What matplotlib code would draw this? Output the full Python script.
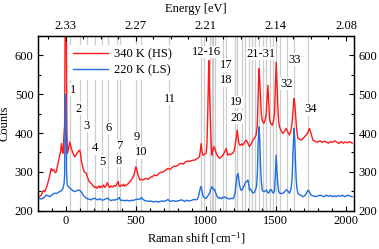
import numpy as np
import matplotlib
matplotlib.use('Agg')
import matplotlib.pyplot as plt
from matplotlib.ticker import MultipleLocator

plt.rcParams['font.family'] = 'Liberation Serif'
plt.rcParams['mathtext.fontset'] = 'stix'
plt.rcParams['font.size'] = 9

# 340 K (HS) spectrum
hs_x = [-190, -175, -160, -150, -135, -120, -112, -103, -95, -85, -75, -67, -58, -50, -43, -36, -31, -25,
        -19, -12, -8, -4, 4, 8, 12, 20, 29, 35, 40, 48, 56, 64, 72, 80, 88, 95, 100, 106, 111, 118, 124,
        132, 140, 147, 153, 159, 166, 175, 183, 192, 200, 207, 215, 223, 231, 238, 246, 254, 262, 270,
        279, 288, 297, 305, 314, 322, 330, 338, 346, 354, 361, 367, 374, 380, 386, 395, 405, 413, 421,
        430, 440, 448, 457, 465, 473, 481, 490, 496, 500, 505, 511, 518, 529, 540, 552, 564, 576, 590,
        605, 620, 633, 650, 665, 680, 695, 712, 729, 745, 760, 775, 790, 808, 824, 840, 855, 870, 887,
        903, 919, 930, 942, 954, 960, 966, 972, 979, 990, 1002, 1008, 1014, 1018, 1021, 1025, 1031,
        1037, 1043, 1050, 1057, 1065, 1074, 1085, 1097, 1110, 1121, 1133, 1145, 1151, 1157, 1165, 1175,
        1185, 1193, 1203, 1211, 1218, 1224, 1230, 1236, 1245, 1255, 1264, 1276, 1288, 1300, 1311, 1323,
        1336, 1348, 1359, 1367, 1373, 1379, 1384, 1390, 1396, 1402, 1408, 1414, 1422, 1431, 1437, 1443,
        1449, 1455, 1464, 1474, 1482, 1490, 1496, 1502, 1508, 1514, 1520, 1526, 1538, 1550, 1562, 1574,
        1586, 1597, 1607, 1616, 1623, 1629, 1635, 1640, 1648, 1657, 1669, 1681, 1698, 1716, 1728, 1740,
        1752, 1764, 1782, 1800, 1815, 1830, 1845, 1859, 1875, 1890, 1905, 1920, 1935, 1950, 1965, 1980,
        1995, 2010, 2025, 2045]
hs_y = [236, 240, 252, 249, 262, 282, 295, 309, 303, 306, 298, 300, 318, 330, 343, 352, 373, 355,
        348, 400, 420, 700, 700, 420, 348, 360, 377, 368, 360, 352, 345, 339, 342, 348, 352, 355, 356,
        345, 330, 318, 309, 300, 298, 296, 288, 283, 276, 272, 270, 266, 262, 260, 262, 258, 260, 264,
        259, 263, 261, 266, 260, 265, 272, 264, 260, 264, 261, 262, 265, 263, 266, 270, 275, 266, 262,
        266, 264, 268, 263, 266, 268, 270, 275, 278, 282, 287, 296, 306, 313, 308, 300, 290, 279, 281,
        279, 282, 283, 281, 286, 288, 292, 290, 296, 299, 300, 304, 309, 306, 312, 315, 314, 320, 322,
        320, 326, 328, 327, 330, 330, 333, 335, 339, 352, 373, 355, 343, 345, 348, 370, 459, 540, 587,
        520, 450, 380, 343, 355, 365, 360, 348, 340, 335, 338, 343, 350, 360, 352, 343, 346, 344, 347,
        348, 355, 373, 390, 407, 390, 373, 368, 372, 369, 376, 382, 374, 365, 372, 382, 388, 395, 420,
        490, 566, 540, 493, 450, 433, 428, 425, 432, 450, 490, 523, 480, 433, 425, 420, 430, 450, 520,
        583, 530, 467, 430, 416, 405, 399, 405, 412, 402, 395, 405, 429, 460, 489, 475, 450, 410, 386,
        384, 382, 388, 395, 402, 412, 398, 382, 378, 377, 380, 376, 379, 377, 374, 378, 376, 380, 377,
        373, 378, 374, 377, 375, 378, 374]

# 220 K (LS) spectrum
ls_x = [-190, -175, -162, -150, -139, -125, -114, -100, -90, -79, -65, -55, -43, -30, -19, -12, -8, -3,
        2, 6, 11, 20, 29, 40, 52, 64, 76, 88, 100, 112, 124, 135, 147, 160, 172, 183, 195, 207, 220,
        231, 243, 254, 266, 278, 290, 300, 312, 326, 338, 350, 362, 372, 381, 390, 398, 410, 422, 433,
        445, 458, 470, 482, 493, 505, 517, 528, 540, 552, 564, 576, 590, 605, 620, 633, 648, 662, 676,
        690, 705, 718, 729, 740, 755, 770, 785, 800, 812, 824, 838, 852, 866, 880, 895, 908, 919, 930,
        940, 947, 954, 960, 966, 972, 978, 983, 992, 1002, 1010, 1018, 1026, 1035, 1043, 1050, 1056,
        1062, 1070, 1081, 1092, 1100, 1110, 1120, 1127, 1133, 1140, 1148, 1157, 1170, 1183, 1193, 1200,
        1208, 1216, 1222, 1229, 1234, 1240, 1248, 1256, 1264, 1270, 1276, 1282, 1288, 1294, 1300, 1306,
        1311, 1319, 1327, 1336, 1348, 1355, 1362, 1368, 1373, 1379, 1384, 1390, 1396, 1402, 1408, 1414,
        1419, 1425, 1431, 1440, 1448, 1455, 1461, 1467, 1475, 1483, 1490, 1496, 1502, 1508, 1514, 1520,
        1526, 1538, 1550, 1560, 1570, 1578, 1587, 1597, 1605, 1611, 1616, 1622, 1629, 1635, 1640, 1645,
        1650, 1657, 1665, 1675, 1685, 1693, 1705, 1715, 1722, 1729, 1737, 1745, 1752, 1765, 1777, 1788,
        1800, 1815, 1830, 1845, 1859, 1875, 1890, 1905, 1920, 1931, 1945, 1960, 1975, 1990, 2002, 2015,
        2030, 2045]
ls_y = [232, 230, 232, 236, 240, 238, 236, 240, 243, 245, 244, 247, 249, 252, 258, 270, 290, 500,
        470, 300, 266, 262, 258, 255, 251, 249, 251, 253, 252, 248, 240, 236, 232, 230, 229, 228, 231,
        232, 229, 228, 231, 228, 227, 229, 231, 232, 228, 226, 228, 227, 229, 230, 234, 228, 226, 227,
        225, 227, 226, 225, 227, 226, 228, 229, 230, 229, 234, 229, 226, 225, 224, 225, 223, 223, 224,
        222, 224, 225, 224, 226, 229, 225, 224, 226, 224, 225, 226, 228, 226, 224, 227, 225, 226, 228,
        229, 228, 230, 236, 248, 258, 262, 252, 240, 236, 233, 231, 236, 240, 245, 255, 262, 258, 254,
        255, 246, 236, 232, 234, 231, 233, 235, 236, 233, 234, 231, 230, 232, 231, 234, 245, 270, 290,
        296, 285, 266, 255, 252, 258, 262, 266, 272, 275, 276, 279, 268, 253, 256, 250, 245, 248, 255,
        262, 300, 370, 416, 390, 322, 275, 253, 250, 249, 249, 252, 253, 248, 245, 250, 254, 254, 248,
        245, 252, 290, 343, 300, 266, 250, 245, 244, 245, 248, 252, 254, 250, 245, 252, 265, 287, 350,
        412, 380, 322, 280, 258, 245, 242, 240, 238, 236, 238, 243, 248, 253, 250, 244, 240, 238, 237,
        236, 238, 240, 238, 236, 240, 237, 239, 236, 238, 236, 239, 237, 240, 236, 238, 240, 237, 236]

# assigned mode positions (gray lines)
modes = [30, 105, 150, 210, 258, 305, 368, 388, 502, 540, 738, 966, 985, 1031, 1043, 1053, 1064,
         1126, 1143, 1205, 1221, 1257, 1281, 1305, 1330, 1350, 1376, 1407, 1431, 1455, 1479, 1502,
         1526, 1576, 1629, 1729]

mode_labels = ['1', '2', '3', '4', '5', '6', '7', '8', '9', '10', '11', '12-16', '17', '18',
               '19', '20', '21-31', '32', '33', '34']
label_x = [52, 95, 150, 209, 261, 307, 381, 381, 509, 536, 745, 1007, 1145, 1145, 1219, 1219,
           1395, 1579, 1633, 1745]
label_y = [512, 463, 418, 361, 326, 412, 367, 328, 389, 350, 489, 609, 575, 536, 480, 440, 605,
           527, 589, 461]

shift_ticks = [0, 500, 1000, 1500, 2000]
energy_labels = ['%.2f' % (2.33 - s * 1.23984e-4) for s in shift_ticks]

fig = plt.figure(figsize=(3.79, 2.49), dpi=100)
ax = fig.add_axes([0.0995, 0.154, 0.8355, 0.701])

for m in modes:
    ax.axvline(m, color='#cccccc', lw=0.9, zorder=1)

ax.plot(hs_x, hs_y, color='#ff1a1a', lw=1.0, label='340 K (HS)', zorder=3)
ax.plot(ls_x, ls_y, color='#1f6fe0', lw=1.0, label='220 K (LS)', zorder=3)

for t, x, y in zip(mode_labels, label_x, label_y):
    ax.text(x, y, t, ha='center', va='center', zorder=2,
            bbox=dict(facecolor='white', edgecolor='none', pad=0.3))

ax.set_xlim(-200, 2060)
ax.set_ylim(200, 650)
ax.xaxis.set_major_locator(MultipleLocator(500))
ax.xaxis.set_minor_locator(MultipleLocator(100))
ax.yaxis.set_major_locator(MultipleLocator(100))
ax.yaxis.set_minor_locator(MultipleLocator(50))
ax.tick_params(which='both', direction='in', right=True, labelright=True, width=0.8, pad=3)
ax.tick_params(which='major', length=3.5)
ax.tick_params(which='minor', length=2)
ax.set_xlabel('Raman shift [cm$^{\\mathregular{-1}}$]', labelpad=3)
ax.set_ylabel('Counts', labelpad=3)
for s in ax.spines.values():
    s.set_linewidth(1.0)

ax2 = ax.twiny()
ax2.set_xlim(ax.get_xlim())
ax2.set_xticks(shift_ticks)
ax2.set_xticklabels(energy_labels)
ax2.xaxis.set_minor_locator(MultipleLocator(125))
ax2.tick_params(which='both', direction='in', width=0.8, pad=3)
ax2.tick_params(which='major', length=3.5)
ax2.tick_params(which='minor', length=2)
ax2.set_xlabel('Energy [eV]', labelpad=6)

leg = ax.legend(loc='upper left', bbox_to_anchor=(0.08, 0.985), frameon=True, fancybox=False,
                edgecolor='none', framealpha=1, handlelength=2.8, handletextpad=0.5,
                borderpad=0.3, labelspacing=0.3)
leg.set_zorder(4)

fig.savefig('out.png', dpi=100)
